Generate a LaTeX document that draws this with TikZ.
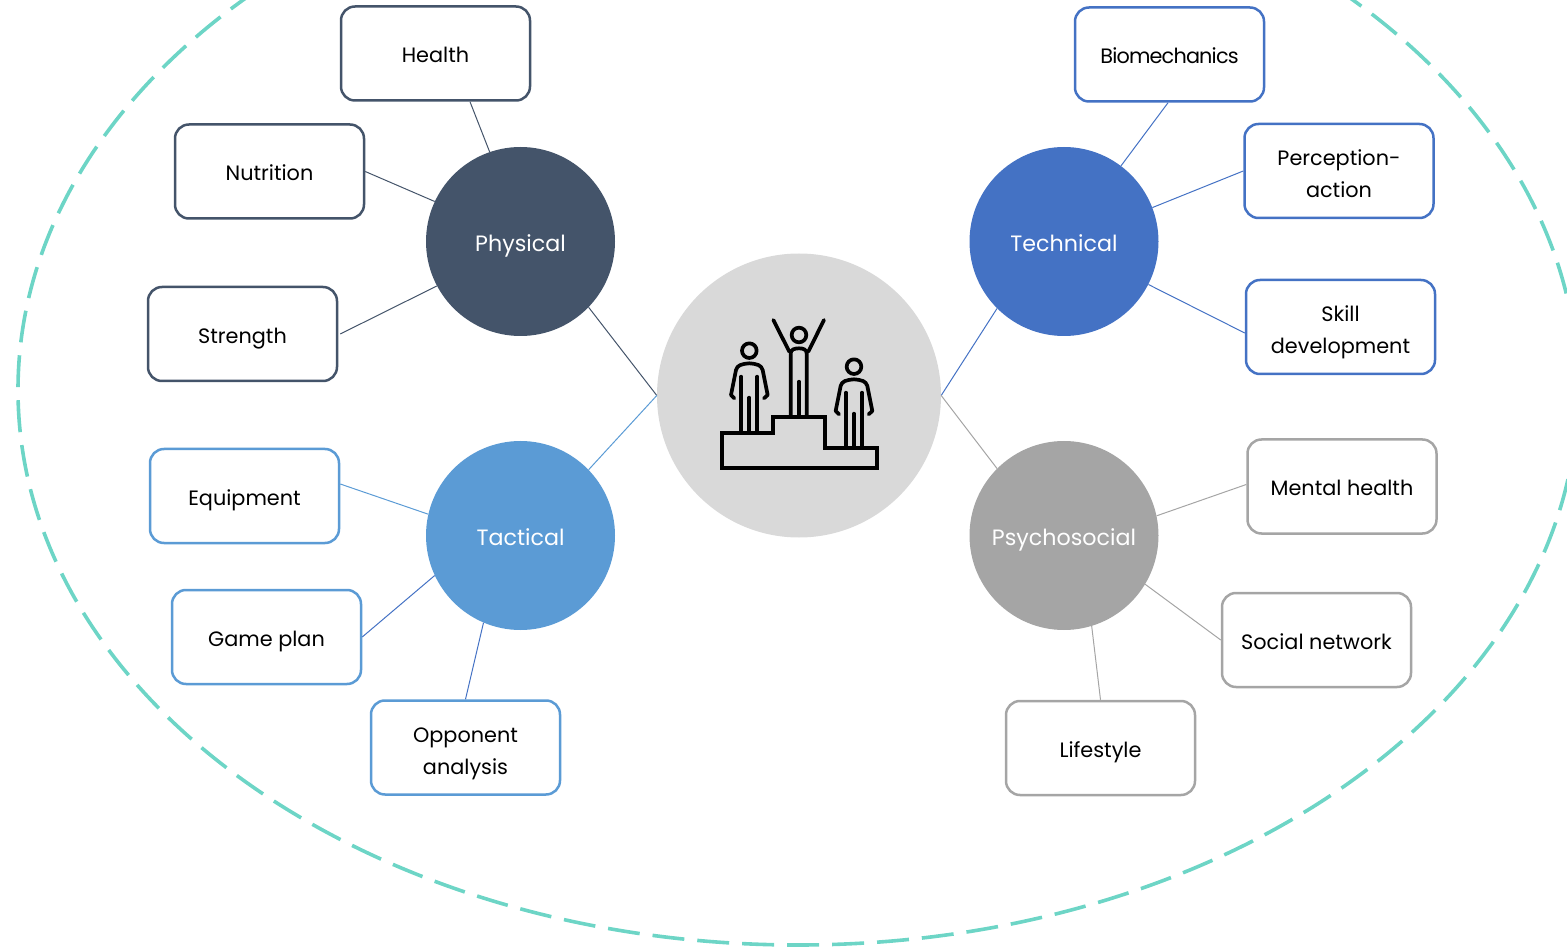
\documentclass[tikz,border=0pt]{standalone}
\usepackage{fontspec}
\setmainfont{Poppins}
\definecolor{phys}{HTML}{44546A}
\definecolor{tact}{HTML}{5B9BD5}
\definecolor{tech}{HTML}{4472C4}
\definecolor{psyc}{HTML}{A5A5A5}
\definecolor{hubc}{HTML}{D9D9D9}
\definecolor{teal}{HTML}{6DD5C6}
\tikzset{
  x=1pt,y=-1pt,
  boxnode/.style={draw=#1,fill=white,line width=2.5pt,rounded corners=14pt,minimum width=189pt,minimum height=94pt,inner sep=0pt,align=center,text=black,text height=19pt,text depth=0pt,font=\fontsize{20.8}{32}\selectfont},
  twoline/.style={text height=54pt,text depth=0pt},
  ballnode/.style={circle,fill=#1,minimum size=189pt,inner sep=0pt,text=white,text height=20pt,text depth=0pt,font=\fontsize{22.2}{30}\selectfont},
  link/.style={draw=#1,line width=1pt},
  iconline/.style={draw=black,line width=3.7pt,line cap=round,line join=round},
}
\newcommand{\standfig}{%
  \draw[iconline] (148,152) circle[radius=22];
  \draw[iconline] (103,295) -- (93,285) -- (108,210) .. controls (112,195) and (125,192) .. (148,190) .. controls (171,192) and (184,195) .. (188,210) -- (203,285) -- (192,295);
  \draw[iconline] (124,230) -- (124,395);
  \draw[iconline] (172,230) -- (172,395);
  \draw[iconline] (148,293) -- (148,395);
}
\begin{document}
\begin{tikzpicture}
\useasboundingbox (0,0) rectangle (1567,949);
\clip (0,0) rectangle (1567,949);
\draw[teal,line width=3.6pt,dash pattern=on 32pt off 13pt] (798,390) ellipse [x radius=780,y radius=555];
\node[circle,fill=hubc,minimum size=284pt,inner sep=0pt] (hub) at (799,395.5) {};
\node[ballnode=phys] (physical) at (520.5,241.5) {Physical};
\node[ballnode=tact] (tactical) at (520.5,535.5) {Tactical};
\node[ballnode=tech] (technical) at (1064,241.5) {Technical};
\node[ballnode=psyc] (psycho) at (1064,535.5) {Psychosocial};
\node[boxnode=phys] (health) at (435.5,53.5) {Health};
\node[boxnode=phys] (nutrition) at (269.5,171.5) {Nutrition};
\node[boxnode=phys] (strength) at (242.5,334) {Strength};
\node[boxnode=tact] (equipment) at (244.5,496) {Equipment};
\node[boxnode=tact] (gameplan) at (266.5,637) {Game plan};
\node[boxnode=tact,twoline] (opponent) at (465.5,747.5) {Opponent\\analysis};
\node[boxnode=tech] (biomech) at (1169.5,54.5) {\addfontfeature{LetterSpace=-4}Biomechanics};
\node[boxnode=tech,twoline] (perception) at (1339,171) {Perception-\\action};
\node[boxnode=tech,twoline] (skill) at (1340.5,327) {Skill\\development};
\node[boxnode=psyc] (mental) at (1342,486.5) {Mental health};
\node[boxnode=psyc] (social) at (1316.5,640) {Social network};
\node[boxnode=psyc] (lifestyle) at (1100.5,748) {Lifestyle};
\draw[link=phys] (physical.-44.6) -- (hub.180);
\draw[link=tact] (tactical.44.6) -- (hub.180);
\draw[link=tech] (technical.225) -- (hub.0);
\draw[link=psyc] (psycho.135) -- (hub.0);
\draw[link=phys] (physical.109.8) -- ([xshift=34.5pt]health.south);
\draw[link=phys] (physical.155.9) -- (nutrition.east);
\draw[link=phys] (physical.208.2) -- ([xshift=2pt]strength.east);
\draw[link=tact] (tactical.167) -- ([yshift=12pt]equipment.east);
\draw[link=tech] (tactical.205.5) -- (gameplan.east);
\draw[link=tech] (tactical.247.5) -- (opponent.north);
\draw[link=tech] (technical.53.3) -- ([xshift=-1.5pt]biomech.south);
\draw[link=tech] (technical.21.7) -- (perception.west);
\draw[link=tech] (technical.-27.9) -- ([yshift=-6pt]skill.west);
\draw[link=psyc] (psycho.12.3) -- ([yshift=2pt]mental.west);
\draw[link=psyc] (psycho.-31.7) -- (social.west);
\draw[link=psyc] (psycho.-73.5) -- (lifestyle.north);
\begin{scope}[shift={(700,300)},x=0.3333pt,y=-0.3333pt]
  \draw[iconline,line cap=butt,line join=miter] (65,505) -- (65,398) -- (220,398) -- (220,350) -- (375,350) -- (375,445) -- (530,445) -- (530,505) -- cycle;
  \draw[iconline] (297,105) circle[radius=22];
  \draw[iconline] (220,60) -- (268,155);
  \draw[iconline] (372,60) -- (325,155);
  \draw[iconline] (272,350) -- (272,160) .. controls (272,148) and (285,145) .. (297,145) .. controls (309,145) and (320,148) .. (320,160) -- (320,350);
  \draw[iconline] (297,245) -- (297,350);
  \standfig
  \begin{scope}[shift={(314,48)}]
    \standfig
  \end{scope}
\end{scope}
\end{tikzpicture}
\end{document}
